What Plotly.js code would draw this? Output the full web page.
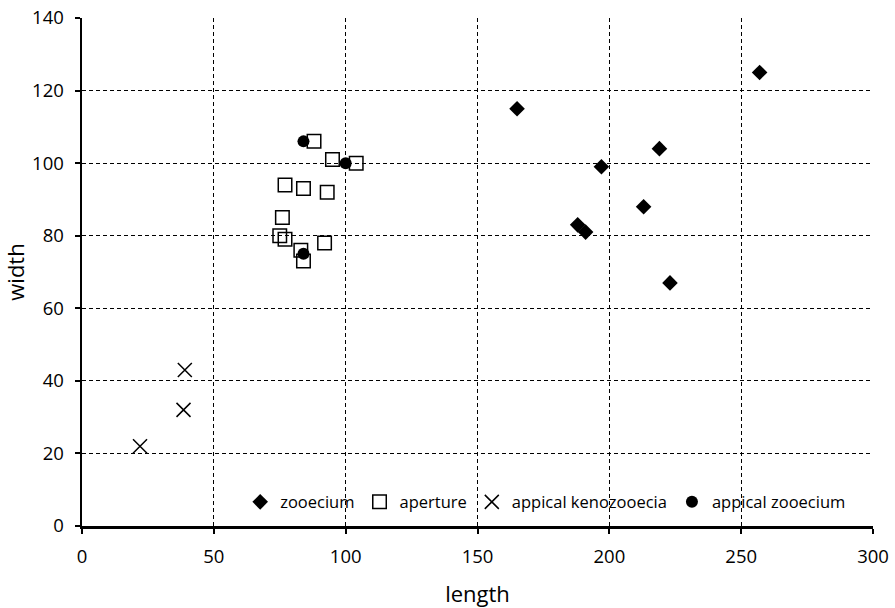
<!DOCTYPE html>
<html><head><meta charset="utf-8">
<script src="https://cdn.plot.ly/plotly-3.0.1.min.js"></script>
<style>html,body{margin:0;padding:0;background:#fff;}#chart{width:895px;height:608px;}</style>
</head><body><div id="chart"></div>
<script>
const zooeciumLength = [257, 165, 219, 197, 213, 188, 191, 223];
const zooeciumWidth  = [125, 115, 104, 99, 88, 83, 81, 67];
const apertureLength = [88, 95, 104, 77, 84, 93, 76, 75, 77, 92, 83, 84];
const apertureWidth  = [106, 101, 100, 94, 93, 92, 85, 80, 79, 78, 76, 73];
const kenoLength = [39, 38.5, 22];
const kenoWidth  = [43, 32, 22];
const apicalLength = [84, 100, 84];
const apicalWidth  = [106, 100, 75];
const xTicks = [0, 50, 100, 150, 200, 250, 300];
const yTicks = [0, 20, 40, 60, 80, 100, 120, 140];

const FONT = 'Open Sans, DejaVu Sans, sans-serif';
const traces = [
  {x: zooeciumLength, y: zooeciumWidth, name: 'zooecium', type: 'scatter', mode: 'markers',
   marker: {symbol: 'diamond', size: 12, color: '#000'}},
  {x: apertureLength, y: apertureWidth, name: 'aperture', type: 'scatter', mode: 'markers',
   marker: {symbol: 'square-open', size: 13.5, color: '#000', line: {width: 1.5, color: '#000'}}},
  {x: kenoLength, y: kenoWidth, name: 'appical kenozooecia', type: 'scatter', mode: 'markers',
   marker: {symbol: 'x-thin-open', size: 14, color: '#000', line: {width: 1.5, color: '#000'}}},
  {x: apicalLength, y: apicalWidth, name: 'appical zooecium', type: 'scatter', mode: 'markers',
   marker: {symbol: 'circle', size: 12, color: '#000'}}
];
const layout = {
  width: 895, height: 608,
  margin: {l: 82, r: 22, t: 18, b: 82},
  paper_bgcolor: '#fff', plot_bgcolor: '#fff',
  font: {family: FONT, size: 18, color: '#000'},
  showlegend: true,
  legend: {orientation: 'h', x: 0.2, y: 0.047, xanchor: 'left', yanchor: 'middle',
           bgcolor: 'rgba(0,0,0,0)', font: {size: 16.5}, itemsizing: 'trace', tracegroupgap: 0, itemwidth: 30},
  xaxis: {range: [0, 300], tickvals: xTicks, ticktext: xTicks.map(String), showline: true, linewidth: 2.5, linecolor: '#000',
          ticks: 'outside', ticklen: 5, tickwidth: 2, tickcolor: '#000', zeroline: false,
          tickfont: {size: 18.5}, ticklabelstandoff: 7,
          showgrid: true, gridcolor: '#000', gridwidth: 1, griddash: '4px,3px',
          title: {text: 'length', font: {size: 22}, standoff: 20}},
  yaxis: {range: [0, 140], tickvals: yTicks, ticktext: yTicks.map(String), showline: true, linewidth: 2.5, linecolor: '#000',
          ticks: 'outside', ticklen: 5, tickwidth: 2, tickcolor: '#000', zeroline: false,
          tickfont: {size: 18.5}, ticklabelstandoff: 7,
          showgrid: true, gridcolor: '#000', gridwidth: 1, griddash: '4px,3px',
          title: {text: 'width', font: {size: 22}, standoff: 10}}
};
Plotly.newPlot('chart', traces, layout, {displayModeBar: false, staticPlot: true});
</script></body></html>
